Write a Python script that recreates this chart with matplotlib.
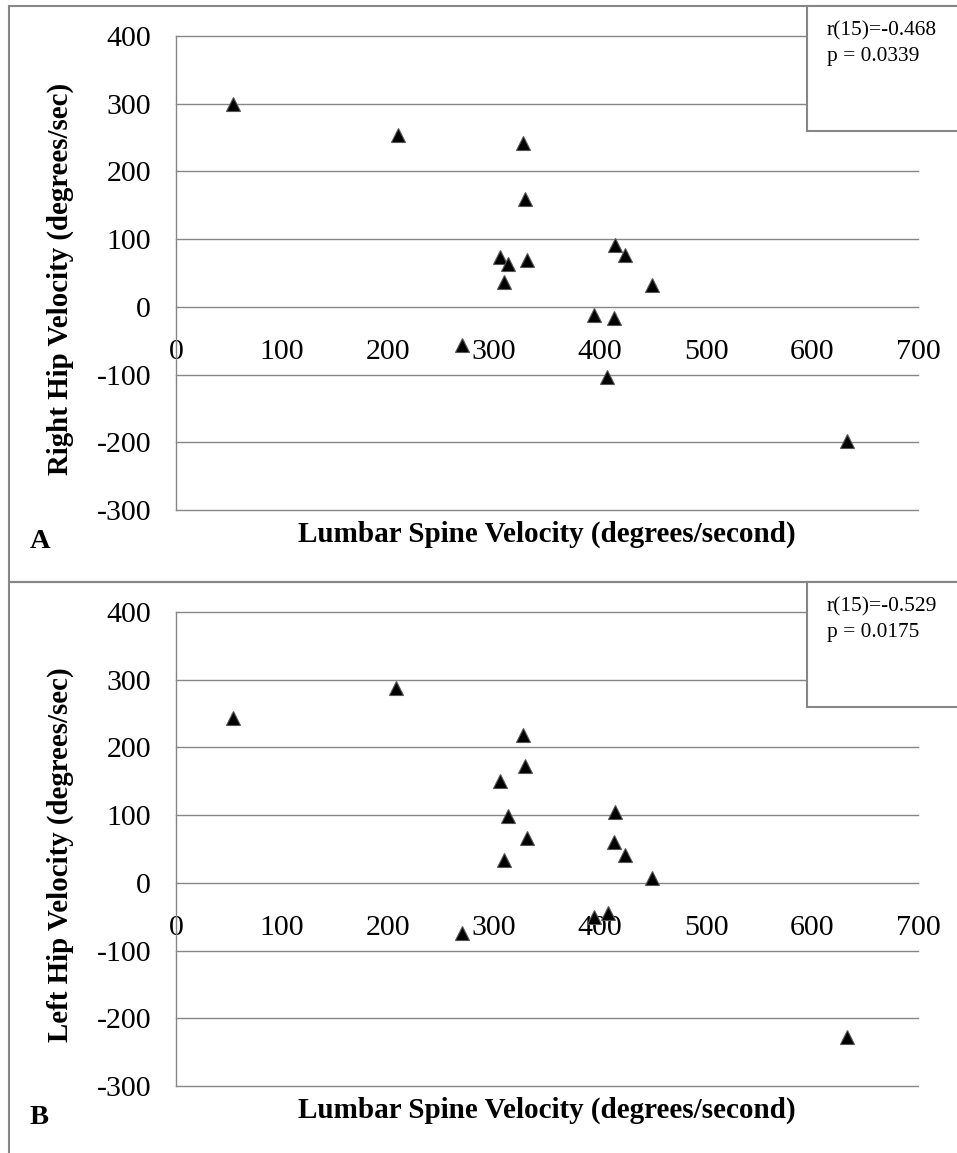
import matplotlib
matplotlib.use("Agg")
import matplotlib.pyplot as plt
from matplotlib.patches import Rectangle

plt.rcParams['font.family'] = ['Liberation Serif', 'DejaVu Serif']

# Data
lumbar = [54, 209, 327, 329, 306, 313, 331, 309, 414, 424, 449, 394, 413, 270, 407, 633]
right_hip = [300, 254, 242, 159, 74, 63, 69, 37, 91, 76, 32, -12, -16, -56, -104, -198]

lumbar_b = [54, 208, 327, 329, 306, 313, 331, 309, 414, 413, 424, 449, 394, 408, 270, 633]
left_hip = [243, 288, 219, 173, 150, 98, 66, 34, 105, 60, 41, 7, -50, -45, -74, -228]

x_ticks = [0, 100, 200, 300, 400, 500, 600, 700]
y_ticks = [-300, -200, -100, 0, 100, 200, 300, 400]

panels = [
    dict(x=lumbar, y=right_hip, ylabel='Right Hip Velocity (degrees/sec)',
         letter='A', r='r(15)=-0.468', p='p = 0.0339', top=36, off=0),
    dict(x=lumbar_b, y=left_hip, ylabel='Left Hip Velocity (degrees/sec)',
         letter='B', r='r(15)=-0.529', p='p = 0.0175', top=612, off=576),
]

W, H = 957, 1153
fig = plt.figure(figsize=(W / 100, H / 100), dpi=100)
GRAY = '#868686'

def fx(px):
    return px / W

def fy(py):
    return 1 - py / H

for pn in panels:
    off = pn['off']
    top, bot = pn['top'], pn['top'] + 474
    ax = fig.add_axes([fx(176), fy(bot), fx(918) - fx(176), 474 / H])
    ax.plot(pn['x'], pn['y'], linestyle='none', marker='^', markersize=10,
            markerfacecolor='black', markeredgecolor='#555555', markeredgewidth=0.8,
            clip_on=False, zorder=5)
    ax.set_xlim(0, 700)
    ax.set_ylim(-300, 400)
    ax.set_xticks(x_ticks)
    ax.set_yticks(y_ticks)
    ax.set_xticklabels([str(v) for v in x_ticks])
    ax.set_yticklabels([str(v) for v in y_ticks])
    ax.spines['right'].set_visible(False)
    ax.spines['top'].set_visible(False)
    ax.spines['bottom'].set_position(('data', 0))
    ax.spines['bottom'].set_visible(False)
    ax.spines['left'].set_color(GRAY)
    ax.spines['left'].set_linewidth(1.0)
    ax.tick_params(axis='both', length=0, labelsize=21.5)
    ax.tick_params(axis='y', pad=18)
    ax.tick_params(axis='x', pad=23)
    ax.yaxis.grid(True, color=GRAY, linewidth=1.0)
    ax.set_axisbelow(True)
    for t in ax.yaxis.get_major_ticks():
        t.gridline.set_clip_on(False)
    ax.set_ylabel(pn['ylabel'], fontsize=20.8, fontweight='bold')
    ax.yaxis.set_label_coords((74 - 176) / 742, 0.488)
    ax.set_xlabel('Lumbar Spine Velocity (degrees/second)', fontsize=21, fontweight='bold')
    ax.xaxis.set_label_coords(0.5, -0.023)
    ax.patch.set_visible(False)

    # letter
    fig.text(fx(30), fy(548 + off), pn['letter'], fontsize=20.5, fontweight='bold',
             va='baseline', ha='left')
    # annotation box
    fig.patches.append(Rectangle((fx(807), fy(131 + off)), fx(960) - fx(807), 125 / H,
                                 transform=fig.transFigure, facecolor='white',
                                 edgecolor=GRAY, lw=1.5, zorder=3))
    fig.text(fx(827), fy(35 + off), pn['r'], fontsize=15.4, va='baseline', ha='left', zorder=4)
    fig.text(fx(827), fy(61 + off), pn['p'], fontsize=15.4, va='baseline', ha='left', zorder=4)

# outer panel borders
fig.patches.append(Rectangle((fx(9), fy(582)), fx(970) - fx(9), 576 / H,
                             transform=fig.transFigure, fill=False, edgecolor=GRAY,
                             lw=1.5, zorder=2))
fig.patches.append(Rectangle((fx(9), fy(1200)), fx(970) - fx(9), (1200 - 582) / H,
                             transform=fig.transFigure, fill=False, edgecolor=GRAY,
                             lw=1.5, zorder=2))

fig.savefig('out.png', dpi=100, facecolor='white')
